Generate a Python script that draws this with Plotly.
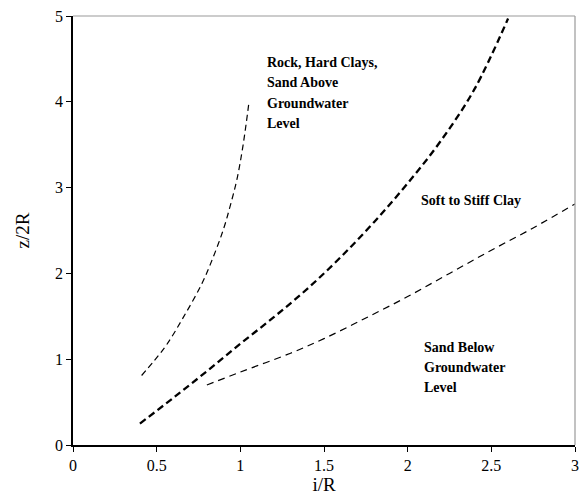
import plotly.graph_objects as go

# Data (i/R vs z/2R)
rock_x = [0.41, 0.48, 0.56, 0.66, 0.77, 0.84, 0.90, 0.94, 0.98, 1.016, 1.052]
rock_y = [0.81, 0.97, 1.17, 1.49, 1.88, 2.20, 2.52, 2.79, 3.10, 3.49, 4.00]

clay_x = [0.40, 0.60, 0.80, 1.00, 1.20, 1.40, 1.60, 1.80, 2.00, 2.20, 2.40, 2.60]
clay_y = [0.25, 0.55, 0.86, 1.18, 1.49, 1.82, 2.19, 2.60, 3.05, 3.55, 4.15, 4.97]

sand_x = [0.80, 1.00, 1.30, 1.50, 1.75, 2.00, 2.25, 2.50, 2.75, 3.00]
sand_y = [0.70, 0.85, 1.07, 1.24, 1.48, 1.73, 2.00, 2.27, 2.53, 2.81]

rock_label = ["Rock, Hard Clays,", "Sand Above", "Groundwater", "Level"]
clay_label = ["Soft to Stiff Clay"]
sand_label = ["Sand Below", "Groundwater", "Level"]

x_ticks = [0, 0.5, 1, 1.5, 2, 2.5, 3]
x_ticktext = ["0", "0.5", "1", "1.5", "2", "2.5", "3"]
y_ticks = [0, 1, 2, 3, 4, 5]

FONT = "Liberation Serif, Times New Roman, serif"

fig = go.Figure()
fig.add_trace(go.Scatter(x=rock_x, y=rock_y, mode="lines", line=dict(color="black", width=1.2, dash="6px,4px", shape="spline"), showlegend=False))
fig.add_trace(go.Scatter(x=clay_x, y=clay_y, mode="lines", line=dict(color="black", width=2.3, dash="7px,4px", shape="spline"), showlegend=False))
fig.add_trace(go.Scatter(x=sand_x, y=sand_y, mode="lines", line=dict(color="black", width=1.2, dash="7px,5px", shape="spline"), showlegend=False))

W, H = 579, 498
ml, mr, mt, mb = 73, 4, 16, 53
pw, ph = W - ml - mr, H - mt - mb

def px2data(px, py):
    return ((px - ml) / pw * 3.0, (H - mb - py) / ph * 5.0)

annotations = []
def add_lines(lines, left_px, first_center_py, spacing):
    for i, t in enumerate(lines):
        x, y = px2data(left_px, first_center_py + i * spacing)
        annotations.append(dict(x=x, y=y, xref="x", yref="y", text="<b>" + t + "</b>", showarrow=False,
                                xanchor="left", yanchor="middle",
                                font=dict(family=FONT, size=14, color="black")))

add_lines(rock_label, 265, 62, 20.5)
add_lines(clay_label, 419, 200, 20)
add_lines(sand_label, 422, 347, 20.3)

fig.update_layout(
    width=W, height=H,
    margin=dict(l=ml, r=mr, t=mt, b=mb, autoexpand=False),
    paper_bgcolor="white", plot_bgcolor="white",
    font=dict(family=FONT, color="black"),
    annotations=annotations,
    shapes=[
        dict(type="line", xref="paper", yref="paper", x0=0, x1=1, y0=1, y1=1, line=dict(color="#999999", width=1.2)),
        dict(type="line", xref="paper", yref="paper", x0=1, x1=1, y0=0, y1=1, line=dict(color="#999999", width=1.2)),
    ],
    xaxis=dict(range=[0, 3], tickvals=x_ticks, ticktext=x_ticktext, showgrid=False, zeroline=False, automargin=False,
               showline=True, linecolor="black", linewidth=1.5, ticks="outside", ticklen=5, tickcolor="black",
               tickfont=dict(family=FONT, size=16, color="black"),
               title=dict(text="i/R", font=dict(family=FONT, size=19, color="black"), standoff=4)),
    yaxis=dict(range=[0, 5], tickvals=y_ticks, showgrid=False, zeroline=False, automargin=False,
               showline=True, linecolor="black", linewidth=1.5, ticks="outside", ticklen=5, tickcolor="black",
               tickfont=dict(family=FONT, size=16, color="black"),
               title=dict(text="z/2R", font=dict(family=FONT, size=19, color="black"), standoff=20)),
)

fig.write_html("out.html")
